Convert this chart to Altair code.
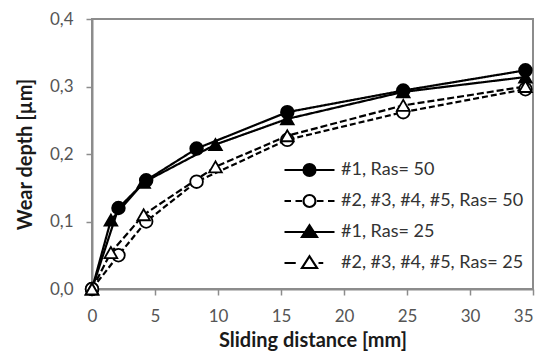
import altair as alt
import pandas as pd

# ---- data ----
series_names = ["#1, Ras= 50", "#2, #3, #4, #5, Ras= 50", "#1, Ras= 25", "#2, #3, #4, #5, Ras= 25"]

x_circle = [0, 2.1, 4.3, 8.3, 15.5, 24.7, 34.4]
y_s1 = [0, 0.120, 0.161, 0.208, 0.262, 0.294, 0.324]
y_s2 = [0, 0.050, 0.100, 0.159, 0.221, 0.262, 0.296]

x_triangle = [0, 1.5, 4.1, 9.8, 15.5, 24.7, 34.4]
y_s3 = [0, 0.102, 0.158, 0.214, 0.252, 0.292, 0.314]
y_s4 = [0, 0.054, 0.110, 0.181, 0.227, 0.272, 0.300]

x_ticks = [0, 5, 10, 15, 20, 25, 30, 35]
y_ticks = [0, 0.1, 0.2, 0.3, 0.4]

rows = []
for name, xs, ys in [(series_names[0], x_circle, y_s1), (series_names[1], x_circle, y_s2),
                     (series_names[2], x_triangle, y_s3), (series_names[3], x_triangle, y_s4)]:
    for xv, yv in zip(xs, ys):
        rows.append({"x": xv, "y": yv, "series": name})
df = pd.DataFrame(rows)

FONT = "Lato"
AX = "#8c8c8c"

x_enc = alt.X("x:Q", scale=alt.Scale(domain=[0, 35], nice=False),
              axis=alt.Axis(values=x_ticks, title="Sliding distance [mm]", grid=False,
                            labelPadding=13, titlePadding=6, format="d", labelFlush=False,
                            labelAlign={"condition": {"test": "datum.value >= 35", "value": "right"},
                                        "value": "center"}))
y_enc = alt.Y("y:Q", scale=alt.Scale(domain=[0, 0.4], nice=False),
              axis=alt.Axis(values=y_ticks, title="Wear depth [µm]", grid=False,
                            labelPadding=13, titlePadding=14, labelFlush=False,
                            labelExpr="replace(format(datum.value, '.1f'), '.', ',')"))

styles = {
    series_names[0]: dict(shape="circle", fill="black", dash=[1, 0]),
    series_names[1]: dict(shape="circle", fill="white", dash=[6, 3]),
    series_names[2]: dict(shape="triangle-up", fill="black", dash=[1, 0]),
    series_names[3]: dict(shape="triangle-up", fill="white", dash=[7, 3]),
}

layers = []
for name in series_names:
    st = styles[name]
    base = alt.Chart(df).transform_filter(alt.datum.series == name)
    layers.append(base.mark_line(color="black", strokeWidth=2.2, strokeDash=st["dash"]).encode(x=x_enc, y=y_enc))
for name in series_names:
    st = styles[name]
    base = alt.Chart(df).transform_filter(alt.datum.series == name)
    layers.append(base.mark_point(shape=st["shape"], fill=st["fill"], stroke="black", strokeWidth=1.8,
                                  size=160, opacity=1, filled=False).encode(x=x_enc, y=y_enc))

# legend symbols: line + marker drawn as custom paths
circ = "M0.24,0 A0.24,0.24 0 1,1 -0.24,0 A0.24,0.24 0 1,1 0.24,0 Z"
tri = "M0,-0.27 L0.3,0.2 L-0.3,0.2 Z"
leg_paths = [
    "M-1,0 L1,0 " + circ,
    "M-1,0 L-0.74,0 M-0.56,0 L-0.3,0 M0.3,0 L0.56,0 M0.74,0 L1,0 " + circ,
    "M-1,0 L1,0 " + tri,
    "M-1,0 L-0.55,0 M0.36,0 L0.55,0 " + tri,
]
leg_fills = ["black", "white", "black", "white"]
leg_strokes = ["black", "black", "black", "black"]


def make_legend():
    return alt.Legend(orient="none", legendX=191, legendY=142, title=None,
                      symbolSize=2500, clipHeight=18, rowPadding=13,
                      symbolStrokeColor="black", symbolStrokeWidth=2.2,
                      labelFont=FONT, labelFontSize=18, labelColor="#333333",
                      labelOffset=5, padding=0, labelLimit=400)


legend_layer = alt.Chart(df).transform_filter("false").mark_point(
    strokeWidth=2.2, opacity=1
).encode(
    x=x_enc, y=y_enc,
    shape=alt.Shape("series:N", scale=alt.Scale(domain=series_names, range=leg_paths), legend=make_legend()),
    fill=alt.Fill("series:N", scale=alt.Scale(domain=series_names, range=leg_fills), legend=make_legend()),
    stroke=alt.Stroke("series:N", scale=alt.Scale(domain=series_names, range=leg_strokes), legend=make_legend()),
)

chart = alt.layer(*layers, legend_layer).properties(
    width=441, height=270,
    autosize=alt.AutoSizeParams(type="none"),
    padding={"left": 84, "top": 11, "right": 2, "bottom": 62},
    background="white",
).configure_view(
    stroke=AX, strokeWidth=2
).configure_axis(
    labelFont=FONT, labelFontSize=17, labelColor="#555555",
    titleFont=FONT, titleFontSize=20, titleFontWeight="bold", titleColor="#1a1a1a",
    domainColor=AX, domainWidth=2, tickColor=AX, tickWidth=1.5, tickSize=6,
)

chart.save("out.html", embed_options={"renderer": "svg", "actions": False})
